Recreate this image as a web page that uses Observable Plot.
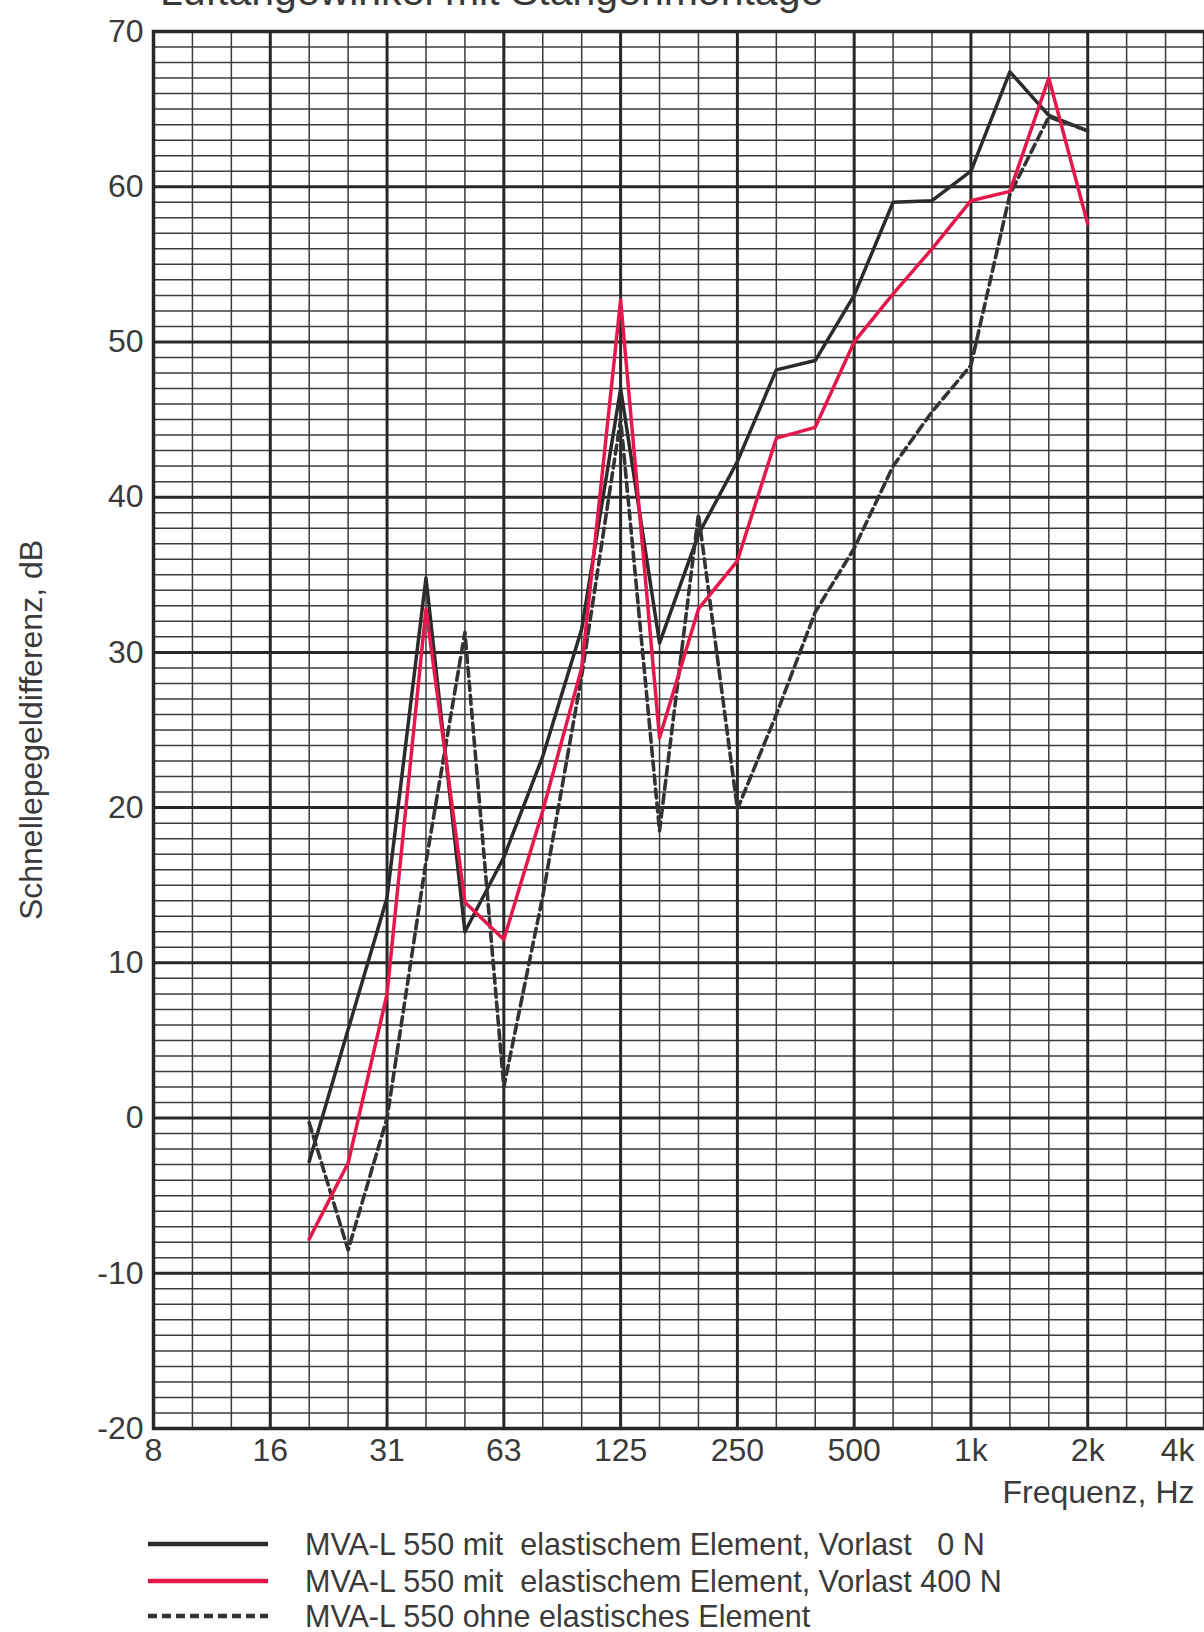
<!DOCTYPE html>
<html><head><meta charset="utf-8">
<script src="https://cdn.jsdelivr.net/npm/d3@7"></script>
<script src="https://cdn.jsdelivr.net/npm/@observablehq/plot@0.6"></script>
<style>
body{margin:0;background:#fff;font-family:"Liberation Sans",Arial,sans-serif;color:#3a3a3a;}
#wrap{position:relative;width:1204px;height:1632px;overflow:hidden;background:#fff;}
#title{position:absolute;left:160px;top:-29px;font-size:41px;line-height:40px;white-space:nowrap;}
.row{position:absolute;left:0;display:flex;align-items:center;height:30px;}
.row svg{margin-left:148px;display:block;}
.row span{margin-left:37px;font-size:30.5px;white-space:pre;line-height:30px;}
</style></head><body>
<div id="wrap"><div id="chart"></div><div id="title">Luftangewinkel mit Stangenmontage</div><div id="legend"></div></div>
<script>
// third-octave band grid (8 Hz ... 4 kHz)
const bands = ["8","10","12.5","16","20","25","31.5","40","50","63","80","100","125","160","200","250","315","400","500","630","800","1000","1250","1600","2000","2500","3150","4000"];
// measured frequencies
const freqs = ["20","25","31.5","40","50","63","80","100","125","160","200","250","315","400","500","630","800","1000","1250","1600","2000"];
const vorlast0   = [-2.8, 5.7, 14.2, 34.8, 12.0, 16.8, 23.3, 31.5, 47.0, 30.6, 37.6, 42.3, 48.2, 48.8, 53.0, 59.0, 59.1, 61.0, 67.4, 64.6, 63.6];
const vorlast400 = [-7.8, -2.9, 8.0, 32.8, 13.9, 11.5, 19.8, 29.0, 52.7, 24.5, 32.8, 35.9, 43.8, 44.5, 50.0, 53.1, 56.0, 59.1, 59.7, 67.0, 57.6];
const ohne       = [-0.3, -8.5, 0.0, 16.5, 31.3, 2.0, 14.3, 28.5, 45.0, 18.5, 38.9, 19.9, 26.0, 32.6, 36.7, 42.0, 45.5, 48.5, 59.5, 64.5, 63.6];
const seriesNames = [
  "MVA-L 550 mit  elastischem Element, Vorlast   0 N",
  "MVA-L 550 mit  elastischem Element, Vorlast 400 N",
  "MVA-L 550 ohne elastisches Element"
];
const seriesColors = ["#2b2b2b", "#e5174b", "#333333"];
const seriesDash = [null, null, "9,5"];
const xTickBands = ["8","16","31.5","63","125","250","500","1000","2000","4000"];
const xTickLabels = ["8","16","31","63","125","250","500","1k","2k","4k"];
const yTicks = [-20,-10,0,10,20,30,40,50,60,70];

const seriesValues = [vorlast0, vorlast400, ohne];
const table = seriesValues.map((vals, s) => freqs.map((f, i) => ({band: bands.indexOf(f), value: vals[i], series: s})));

const txt = "#3a3a3a";
const chart = Plot.plot({
  width: 1204, height: 1520,
  marginLeft: 153, marginRight: 0, marginTop: 31, marginBottom: 92,
  x: {type: "linear", domain: [0, bands.length - 1], axis: null},
  y: {domain: [-20, 70], axis: null},
  style: {fontFamily: "Liberation Sans, Arial, sans-serif", color: txt, background: "transparent", overflow: "visible"},
  marks: [
    Plot.ruleY(d3.range(-20, 71).filter(v => v % 10 !== 0), {stroke: "#3c3c3c", strokeWidth: 1.5}),
    Plot.ruleX(bands.map((b, i) => i).filter(i => !xTickBands.includes(bands[i])), {stroke: "#3c3c3c", strokeWidth: 1.5}),
    Plot.ruleY(yTicks, {stroke: "#282828", strokeWidth: 3}),
    Plot.ruleX(xTickBands.map(b => bands.indexOf(b)), {stroke: "#282828", strokeWidth: 3}),
    Plot.frame({stroke: "#282828", strokeWidth: 3.5}),
    Plot.line(table[0], {x: "band", y: "value", stroke: seriesColors[0], strokeWidth: 3.5}),
    Plot.line(table[2], {x: "band", y: "value", stroke: seriesColors[2], strokeWidth: 3.6, strokeDasharray: seriesDash[2]}),
    Plot.line(table[1], {x: "band", y: "value", stroke: seriesColors[1], strokeWidth: 3.5}),
    Plot.text(yTicks, {x: 0, y: d => d, text: d => String(d), textAnchor: "end", dx: -10, fontSize: 32, fill: txt}),
    Plot.text(xTickBands.slice(0, -1), {x: b => bands.indexOf(b), y: -20, text: (b, i) => xTickLabels[i], dy: 22, fontSize: 32, fill: txt}),
    Plot.text(xTickBands.slice(-1), {x: b => bands.indexOf(b), y: -20, text: () => xTickLabels[xTickLabels.length - 1], textAnchor: "end", dx: -10, dy: 22, fontSize: 32, fill: txt}),
    Plot.text(["Frequenz, Hz"], {frameAnchor: "bottom-right", textAnchor: "end", dx: -10, dy: 74, fontSize: 32, fill: txt}),
    Plot.text(["Schnellepegeldifferenz, dB"], {frameAnchor: "left", textAnchor: "middle", dx: -122, rotate: -90, fontSize: 32, fill: txt})
  ]
});
document.getElementById("chart").appendChild(chart);

const legend = document.getElementById("legend");
const rowTops = [1529, 1566, 1601];
seriesNames.forEach((name, s) => {
  const row = document.createElement("div");
  row.className = "row";
  row.style.top = rowTops[s] + "px";
  const dash = seriesDash[s] ? ` stroke-dasharray="${seriesDash[s]}"` : "";
  row.innerHTML = `<svg width="120" height="10"><line x1="0" y1="5" x2="120" y2="5" stroke="${seriesColors[s]}" stroke-width="4.5"${dash}/></svg><span>${name}</span>`;
  legend.appendChild(row);
});
</script>
</body></html>
